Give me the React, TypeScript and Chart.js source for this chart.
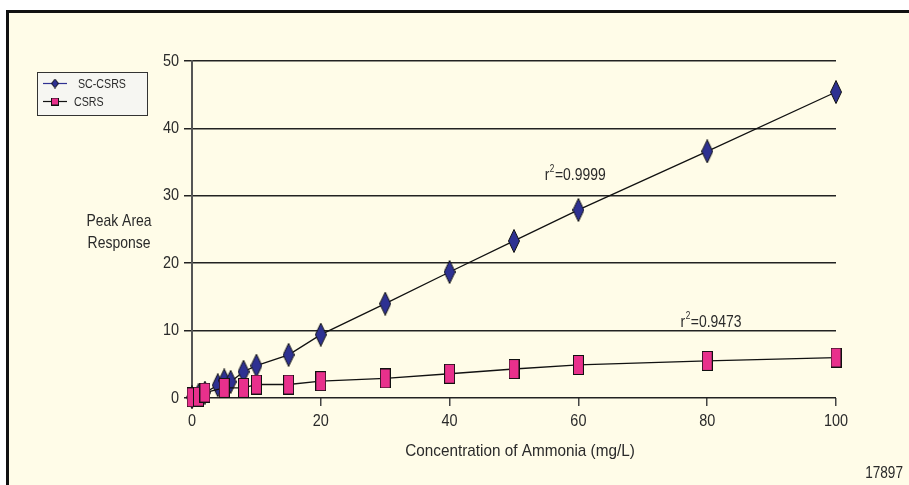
import React, { useEffect, useRef } from 'react';
import { Chart, registerables } from 'chart.js';
Chart.register(...registerables);

// ---- data ----
const concSC = [0, 1, 2, 4, 5, 6, 8, 10, 15, 20, 30, 40, 50, 60, 80, 100];
const respSC = [0.1, 0.4, 0.8, 1.9, 2.6, 2.4, 3.9, 4.8, 6.4, 9.4, 14.0, 18.7, 23.3, 27.9, 36.6, 45.4];
const concCSRS = [0, 1, 2, 5, 8, 10, 15, 20, 30, 40, 50, 60, 80, 100];
const respCSRS = [0.1, 0.2, 0.8, 1.5, 1.5, 2.0, 2.0, 2.5, 2.9, 3.6, 4.3, 4.9, 5.5, 6.0];
const xTicks = [0, 20, 40, 60, 80, 100];
const yTicks = [0, 10, 20, 30, 40, 50];
const seriesNames = ['SC-CSRS', 'CSRS'];
const r2Values = ['0.9999', '0.9473'];
const r2Anchors = [[59.5, 33.1], [80.6, 11.3]]; // data coords for r² labels
const xTitle = 'Concentration of Ammonia (mg/L)';
const yTitleLines = ['Peak Area', 'Response'];
const figureId = '17897';

const FONT = '"Liberation Sans", Arial, Helvetica, sans-serif';
const NAVY = '#2E3192';
const PINK = '#E8308C';
const TEXT = '#2a2a2a';

function makeDiamond(w: number, h: number, fill: string) {
  const c = document.createElement('canvas');
  c.width = w; c.height = h;
  const ctx = c.getContext('2d')!;
  ctx.beginPath();
  ctx.moveTo(w / 2, 0.5);
  ctx.lineTo(w - 0.5, h / 2);
  ctx.lineTo(w / 2, h - 0.5);
  ctx.lineTo(0.5, h / 2);
  ctx.closePath();
  ctx.fillStyle = fill;
  ctx.fill();
  ctx.strokeStyle = '#111';
  ctx.lineWidth = 1;
  ctx.stroke();
  return c;
}

function makeRect(w: number, h: number, fill: string) {
  const c = document.createElement('canvas');
  c.width = w; c.height = h;
  const ctx = c.getContext('2d')!;
  ctx.fillStyle = fill;
  ctx.fillRect(0.5, 0.5, w - 1, h - 1);
  ctx.strokeStyle = '#111';
  ctx.lineWidth = 1;
  ctx.strokeRect(0.5, 0.5, w - 1, h - 1);
  return c;
}

function drawText(
  ctx: CanvasRenderingContext2D, text: string, x: number, y: number,
  size: number, align: 'left' | 'center' | 'right', sx: number,
) {
  ctx.font = `${size}px ${FONT}`;
  const w = ctx.measureText(text).width * sx;
  const left = align === 'center' ? x - w / 2 : align === 'right' ? x - w : x;
  ctx.save();
  ctx.translate(left, y);
  ctx.scale(sx, 1);
  ctx.textAlign = 'left';
  ctx.textBaseline = 'middle';
  ctx.fillText(text, 0, 0);
  ctx.restore();
  return w;
}

export default function App() {
  const ref = useRef<HTMLCanvasElement>(null);

  useEffect(() => {
    if (!ref.current) return;
    const diamond = makeDiamond(12, 24, NAVY);
    const rect = makeRect(11, 20, PINK);
    const smallDiamond = makeDiamond(8, 10, NAVY);
    const smallRect = makeRect(8, 8, PINK);

    const annot = {
      id: 'annot',
      afterDraw(chart: any) {
        const ctx = chart.ctx as CanvasRenderingContext2D;
        const xs = chart.scales.x;
        const ys = chart.scales.y;
        ctx.save();
        ctx.fillStyle = TEXT;

        // tick labels
        yTicks.forEach((v) => {
          drawText(ctx, String(v), 179, ys.getPixelForValue(v), 17, 'right', 0.85);
        });
        xTicks.forEach((v) => {
          drawText(ctx, String(v), xs.getPixelForValue(v), 421, 17, 'center', 0.85);
        });

        // Y title
        drawText(ctx, yTitleLines[0], 119, 221, 17, 'center', 0.82);
        drawText(ctx, yTitleLines[1], 119, 243, 17, 'center', 0.82);

        // X title
        drawText(ctx, xTitle, 520, 451, 17, 'center', 0.9);

        // figure id
        drawText(ctx, figureId, 903, 473, 17, 'right', 0.8);

        // r² labels
        r2Values.forEach((v, i) => {
          const px = xs.getPixelForValue(r2Anchors[i][0]);
          const py = ys.getPixelForValue(r2Anchors[i][1]);
          const sx = 0.82;
          ctx.font = `17px ${FONT}`;
          const w1 = ctx.measureText('r').width * sx;
          const w3 = ctx.measureText('=' + v).width * sx;
          ctx.font = `10px ${FONT}`;
          const w2 = ctx.measureText('2').width * sx;
          const x0 = px - (w1 + w2 + w3 + 1) / 2;
          drawText(ctx, 'r', x0, py, 17, 'left', sx);
          drawText(ctx, '2', x0 + w1 + 0.5, py - 6, 10, 'left', sx);
          drawText(ctx, '=' + v, x0 + w1 + w2 + 1, py, 17, 'left', sx);
        });

        // legend box
        ctx.fillStyle = '#F6F6F2';
        ctx.fillRect(37, 72, 110, 43);
        ctx.strokeStyle = '#333';
        ctx.lineWidth = 1;
        ctx.strokeRect(37.5, 72.5, 110, 43);
        ctx.strokeStyle = NAVY;
        ctx.lineWidth = 1.2;
        ctx.beginPath(); ctx.moveTo(43, 83.5); ctx.lineTo(67, 83.5); ctx.stroke();
        ctx.drawImage(smallDiamond, 55 - 4, 83.5 - 5);
        ctx.strokeStyle = '#111';
        ctx.beginPath(); ctx.moveTo(43, 101.5); ctx.lineTo(67, 101.5); ctx.stroke();
        ctx.drawImage(smallRect, 55 - 4, 101.5 - 4);
        ctx.fillStyle = TEXT;
        drawText(ctx, seriesNames[0], 78, 84, 13, 'left', 0.82);
        drawText(ctx, seriesNames[1], 74, 102, 13, 'left', 0.82);
        ctx.restore();
      },
    };

    const chart = new Chart(ref.current, {
      type: 'scatter',
      data: {
        datasets: [
          {
            label: seriesNames[1],
            data: concCSRS.map((x, i) => ({ x, y: respCSRS[i] })),
            showLine: true,
            borderColor: '#111',
            borderWidth: 1.3,
            pointStyle: rect as any,
            pointRadius: 6,
            order: 0,
            clip: false as any,
          },
          {
            label: seriesNames[0],
            data: concSC.map((x, i) => ({ x, y: respSC[i] })),
            showLine: true,
            borderColor: '#111',
            borderWidth: 1.3,
            pointStyle: diamond as any,
            pointRadius: 6,
            order: 1,
            clip: false as any,
          },
        ],
      },
      options: {
        animation: false,
        responsive: false,
        events: [],
        layout: { padding: { left: 0, right: 73, top: 61, bottom: 0 } },
        plugins: { legend: { display: false }, tooltip: { enabled: false }, title: { display: false } },
        scales: {
          x: {
            type: 'linear',
            min: 0,
            max: 100,
            afterBuildTicks: (s: any) => { s.ticks = xTicks.map((v) => ({ value: v })); },
            afterFit: (s: any) => { s.height = 87; },
            grid: { drawOnChartArea: false, drawTicks: true, tickLength: 8, color: '#444', lineWidth: 1.5 },
            border: { display: false },
            ticks: { display: false },
          },
          y: {
            type: 'linear',
            min: 0,
            max: 50,
            afterBuildTicks: (s: any) => { s.ticks = yTicks.map((v) => ({ value: v })); },
            afterFit: (s: any) => { s.width = 192; },
            grid: { color: '#222', lineWidth: 1.5, drawTicks: true, tickLength: 8 },
            border: { display: true, color: '#555', width: 2 },
            ticks: { display: false },
          },
        },
      },
      plugins: [annot],
    });
    return () => chart.destroy();
  }, []);

  return (
    <div style={{ position: 'fixed', left: 0, top: 0, width: 909, height: 485, background: '#fff', overflow: 'hidden' }}>
      <div
        style={{
          position: 'absolute', left: 6, top: 10, width: 920, height: 500,
          borderLeft: '3px solid #111', borderTop: '3px solid #111', background: '#FFFCE8',
        }}
      />
      <canvas ref={ref} width={909} height={485} style={{ position: 'absolute', left: 0, top: 0, width: 909, height: 485 }} />
    </div>
  );
}
